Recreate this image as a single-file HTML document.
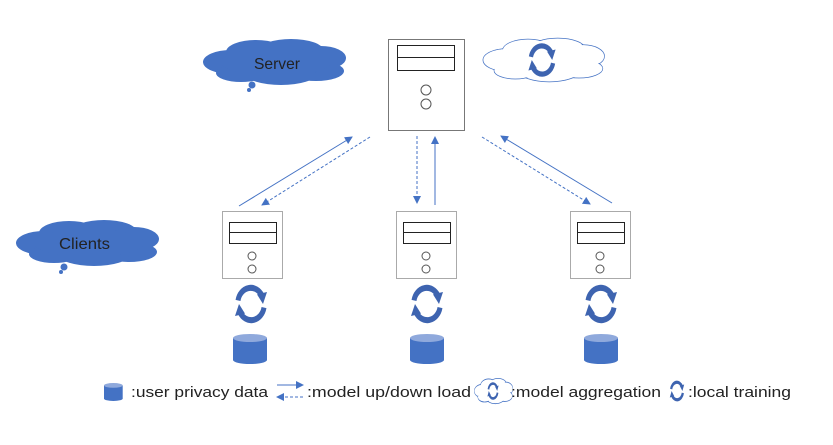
<!DOCTYPE html>
<html><head><meta charset="utf-8"><style>
body{margin:0;background:#fff;width:833px;height:445px;overflow:hidden}
svg{display:block}
text{font-family:"Liberation Sans","DejaVu Sans",sans-serif}
</style></head><body>
<svg width="833" height="445" viewBox="0 0 833 445" xmlns="http://www.w3.org/2000/svg">
<defs>
<marker id="ah" markerWidth="8" markerHeight="8" refX="7" refY="4" orient="auto" markerUnits="userSpaceOnUse">
<path d="M0,0 L8,4 L0,8 z" fill="#4472c4"/></marker>
<g id="cyc">
<path d="M-13,-3 A13,13 0 0 1 11,-7" fill="none" stroke="#3e64b0" stroke-width="5"/>
<path d="M6,-8 L16,-10 L12,0 z" fill="#3e64b0"/>
<path d="M13,3 A13,13 0 0 1 -11,7" fill="none" stroke="#3e64b0" stroke-width="5"/>
<path d="M-6,8 L-16,10 L-12,0 z" fill="#3e64b0"/>
</g>
<g id="cyl">
<path d="M0,4 L0,26 A17,4 0 0 0 34,26 L34,4" fill="#4472c4"/>
<ellipse cx="17" cy="4" rx="17" ry="4" fill="#8fa9dc"/>
</g>
<g id="cloud">
<ellipse cx="-45" cy="0" rx="28" ry="12"/><ellipse cx="-20" cy="-10" rx="30" ry="12"/>
<ellipse cx="15" cy="-12" rx="32" ry="11"/><ellipse cx="45" cy="-4" rx="25" ry="12"/>
<ellipse cx="40" cy="9" rx="28" ry="10"/><ellipse cx="5" cy="12" rx="35" ry="11"/>
<ellipse cx="-35" cy="11" rx="25" ry="9"/><ellipse cx="0" cy="0" rx="55" ry="14"/>
</g>
</defs>

<!-- clouds -->
<g fill="#4472c4"><use href="#cloud" transform="translate(276,62)"/>
<circle cx="252" cy="85" r="3.5"/><circle cx="249" cy="90" r="2"/>
<use href="#cloud" transform="translate(89,243)"/>
<circle cx="64" cy="267" r="3.5"/><circle cx="61" cy="272" r="2"/></g>
<text x="254" y="69" font-size="16" textLength="46" lengthAdjust="spacingAndGlyphs" fill="#222">Server</text>
<text x="59" y="249" font-size="16" textLength="51" lengthAdjust="spacingAndGlyphs" fill="#222">Clients</text>
<g fill="#fff" stroke="#4472c4" stroke-width="0.8"><use href="#cloud" transform="translate(545,60) scale(0.85,0.95)"/></g>
<g fill="#fff"><use href="#cloud" transform="translate(545,60) scale(0.83,0.92)"/></g>
<use href="#cyc" transform="translate(542,60) scale(0.85,1.05)"/>

<!-- server -->
<rect x="388.5" y="39.5" width="76" height="91" fill="#fff" stroke="#777"/>
<rect x="397.5" y="45.5" width="57" height="25" fill="none" stroke="#222"/>
<line x1="397" y1="57.5" x2="455" y2="57.5" stroke="#222"/>
<circle cx="426" cy="90" r="5" fill="none" stroke="#555"/>
<circle cx="426" cy="104" r="5" fill="none" stroke="#555"/>

<!-- clients -->
<g id="cl">
<rect x="222.5" y="211.5" width="60" height="67" fill="#fff" stroke="#aaa"/>
<rect x="229.5" y="222.5" width="47" height="21" fill="none" stroke="#222"/>
<line x1="229" y1="232.5" x2="277" y2="232.5" stroke="#222"/>
<circle cx="252" cy="256" r="4" fill="none" stroke="#555"/>
<circle cx="252" cy="269" r="4" fill="none" stroke="#555"/>
</g>
<use href="#cl" transform="translate(174,0)"/>
<use href="#cl" transform="translate(348,0)"/>

<use href="#cyc" transform="translate(251,304) scale(1,1.2)"/>
<use href="#cyc" transform="translate(427,304) scale(1,1.2)"/>
<use href="#cyc" transform="translate(601,304) scale(1,1.2)"/>
<use href="#cyl" transform="translate(233,334)"/>
<use href="#cyl" transform="translate(410,334)"/>
<use href="#cyl" transform="translate(584,334)"/>

<!-- arrows -->
<g stroke="#4472c4" stroke-width="1" fill="none">
<line x1="239" y1="206" x2="352" y2="137" marker-end="url(#ah)"/>
<line x1="370" y1="137" x2="262" y2="205" stroke-dasharray="3,2" marker-end="url(#ah)"/>
<line x1="417" y1="136" x2="417" y2="203" stroke-dasharray="3,2" marker-end="url(#ah)"/>
<line x1="435" y1="205" x2="435" y2="137" marker-end="url(#ah)"/>
<line x1="482" y1="137" x2="590" y2="204" stroke-dasharray="3,2" marker-end="url(#ah)"/>
<line x1="612" y1="203" x2="501" y2="136" marker-end="url(#ah)"/>
</g>

<!-- legend -->
<use href="#cyl" transform="translate(104,383) scale(0.55,0.6)"/>
<text x="131" y="397" font-size="15" textLength="137" lengthAdjust="spacingAndGlyphs" fill="#222">:user privacy data</text>
<g stroke="#4472c4" stroke-width="1">
<line x1="277" y1="385" x2="303" y2="385" marker-end="url(#ah)"/>
<line x1="303" y1="397" x2="277" y2="397" stroke-dasharray="3,2" marker-end="url(#ah)"/>
</g>
<text x="307" y="397" font-size="15" textLength="164" lengthAdjust="spacingAndGlyphs" fill="#222">:model up/down load</text>
<g fill="#fff" stroke="#4472c4" stroke-width="1.5"><use href="#cloud" transform="translate(494,391) scale(0.27,0.55)"/></g>
<g fill="#fff"><use href="#cloud" transform="translate(494,391) scale(0.25,0.52)"/></g>
<use href="#cyc" transform="translate(493,391) scale(0.35,0.55)"/>
<text x="511" y="397" font-size="15" textLength="150" lengthAdjust="spacingAndGlyphs" fill="#222">:model aggregation</text>
<use href="#cyc" transform="translate(677,391) scale(0.45,0.65)"/>
<text x="688" y="397" font-size="15" textLength="103" lengthAdjust="spacingAndGlyphs" fill="#222">:local training</text>
</svg>
</body></html>
